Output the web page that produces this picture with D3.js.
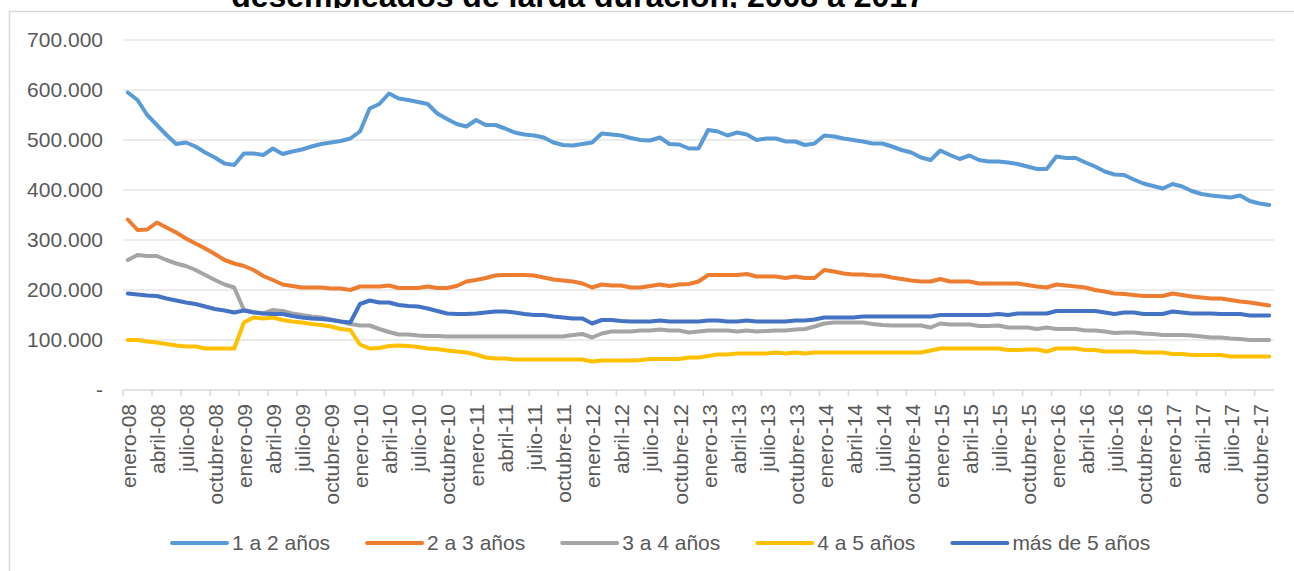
<!DOCTYPE html>
<html>
<head>
<meta charset="utf-8">
<script src="https://cdn.jsdelivr.net/npm/d3@7"></script>
<style>
  body { margin: 0; background: #fff; }
  text { font-family: "Liberation Sans", Arial, sans-serif; }
</style>
</head>
<body>
<div id="main"></div>
<script>
var width = 1294;
var height = 571;

// categorias: enero-08 .. noviembre-17
var monthNames = ['enero', 'febrero', 'marzo', 'abril', 'mayo', 'junio', 'julio',
    'agosto', 'septiembre', 'octubre', 'noviembre', 'diciembre'];
var yearNames = ['08', '09', '10', '11', '12', '13', '14', '15', '16', '17'];
var numMonths = 119;

var seriesNames = ['1 a 2 años', '2 a 3 años', '3 a 4 años', '4 a 5 años', 'más de 5 años'];
var seriesColors = ['#5B9BD5', '#ED7D31', '#A5A5A5', '#FFC000', '#4472C4'];

// valores en miles de personas
var unoADos = [595, 580, 550, 530, 510, 492, 495, 487, 475, 465, 453, 450,
    473, 473, 470, 483, 472, 477, 481, 487, 492, 495, 498, 503,
    517, 563, 572, 593, 583, 580, 576, 572, 553, 542, 532, 527,
    540, 530, 530, 523, 515, 511, 509, 505, 495, 490, 489, 492,
    495, 513, 511, 509, 504, 500, 499, 505, 492, 491, 483, 483,
    520, 517, 509, 515, 511, 500, 503, 503, 497, 497, 490, 493,
    509, 507, 503, 500, 497, 493, 493, 487, 480, 475, 465, 460,
    479, 470, 462, 469, 460, 457, 457, 455, 452, 447, 442, 442,
    467, 464, 464, 455, 447, 437, 431, 430, 421, 413, 408, 403,
    412, 407, 398, 392, 389, 387, 385, 389, 378, 373, 370];
var dosATres = [341, 320, 321, 335, 325, 315, 303, 293, 283, 272, 260, 253,
    248, 240, 228, 220, 211, 208, 205, 205, 205, 203, 203, 200,
    207, 207, 207, 209, 204, 204, 204, 207, 204, 204, 208, 217,
    220, 224, 229, 230, 230, 230, 229, 225, 221, 219, 217, 213,
    205, 211, 209, 209, 205, 205, 208, 211, 208, 211, 212, 217,
    230, 230, 230, 230, 232, 227, 227, 227, 224, 227, 224, 224,
    240, 237, 233, 231, 231, 229, 229, 225, 222, 219, 217, 217,
    222, 217, 217, 217, 213, 213, 213, 213, 213, 210, 207, 205,
    211, 209, 207, 205, 200, 197, 193, 192, 190, 188, 188, 188,
    193, 190, 187, 185, 183, 183, 180, 177, 175, 172, 169];
var tresACuatro = [260, 270, 268, 268, 260, 253, 248, 240, 230, 220, 211, 205,
    160, 156, 153, 160, 158, 153, 150, 147, 145, 141, 137, 132,
    129, 129, 122, 116, 111, 111, 109, 108, 108, 107, 107, 107,
    107, 107, 107, 107, 107, 107, 107, 107, 107, 107, 110, 112,
    105, 113, 117, 117, 117, 119, 119, 121, 119, 119, 115, 117,
    119, 119, 119, 117, 119, 117, 118, 119, 119, 121, 122, 127,
    133, 135, 135, 135, 135, 132, 130, 129, 129, 129, 129, 125,
    133, 131, 131, 131, 128, 128, 129, 125, 125, 125, 122, 125,
    122, 122, 122, 119, 119, 117, 114, 115, 115, 113, 112, 110,
    110, 110, 109, 107, 105, 105, 103, 102, 100, 100, 100];
var cuatroACinco = [100, 100, 97, 95, 92, 89, 87, 87, 83, 83, 83, 83,
    135, 145, 143, 145, 140, 137, 135, 132, 130, 127, 122, 120,
    91, 83, 84, 88, 89, 88, 86, 83, 82, 79, 77, 75,
    71, 65, 63, 63, 61, 61, 61, 61, 61, 61, 61, 61,
    57, 59, 59, 59, 59, 60, 62, 62, 62, 62, 65, 65,
    68, 71, 71, 73, 73, 73, 73, 75, 73, 75, 73, 75,
    75, 75, 75, 75, 75, 75, 75, 75, 75, 75, 75, 79,
    83, 83, 83, 83, 83, 83, 83, 80, 80, 81, 81, 77,
    83, 83, 83, 80, 80, 77, 77, 77, 77, 75, 75, 75,
    72, 72, 70, 70, 70, 70, 67, 67, 67, 67, 67];
var masDeCinco = [193, 191, 189, 188, 183, 179, 175, 172, 167, 162, 159, 155,
    159, 155, 153, 152, 152, 148, 145, 143, 142, 140, 137, 135,
    172, 179, 175, 175, 170, 168, 167, 163, 158, 153, 152, 152,
    153, 155, 157, 157, 155, 152, 150, 150, 147, 145, 143, 143,
    133, 140, 140, 138, 137, 137, 137, 139, 137, 137, 137, 137,
    139, 139, 137, 137, 139, 137, 137, 137, 137, 139, 139, 141,
    145, 145, 145, 145, 147, 147, 147, 147, 147, 147, 147, 147,
    150, 150, 150, 150, 150, 150, 152, 150, 153, 153, 153, 153,
    158, 158, 158, 158, 158, 155, 152, 155, 155, 152, 152, 152,
    157, 155, 153, 153, 153, 152, 152, 152, 149, 149, 149];

var yTicks = [0, 100, 200, 300, 400, 500, 600, 700];

var labels = [];
yearNames.forEach(function(y) {
    monthNames.forEach(function(m) { labels.push(m + '-' + y); });
});
labels = labels.slice(0, numMonths);

var seriesValues = [unoADos, dosATres, tresACuatro, cuatroACinco, masDeCinco];

var plot = {l: 123, r: 1274, t: 40, b: 390};

var svg = d3.select('#main').append('svg')
    .attr('width', width)
    .attr('height', height);

// titulo (solo se ve la parte de abajo)
svg.append('clipPath').attr('id', 'titleClip')
    .append('rect').attr('x', 0).attr('y', 0).attr('width', width).attr('height', 8);
svg.append('text')
    .attr('clip-path', 'url(#titleClip)')
    .attr('x', 578)
    .attr('y', 7)
    .attr('text-anchor', 'middle')
    .style('font-size', '32px')
    .style('font-weight', 'bold')
    .style('fill', '#000')
    .text('desempleados de larga duración, 2008 a 2017');

// borde del area del grafico
svg.append('rect')
    .attr('x', 9.5)
    .attr('y', 11.5)
    .attr('width', width + 20)
    .attr('height', height + 20)
    .style('fill', '#fff')
    .style('stroke', '#D9D9D9')
    .style('stroke-width', 1.5);

var xScale = d3.scaleBand().domain(labels).range([plot.l, plot.r]).padding(0);
var yScale = d3.scaleLinear().domain([0, 700]).range([plot.b, plot.t]);

var locale = d3.formatLocale({decimal: ',', thousands: '.', grouping: [3], currency: ['', '']});
var fmt = locale.format(',');

// grid
svg.append('g')
    .selectAll('line')
    .data(yTicks.slice(1))
    .enter()
    .append('line')
    .attr('x1', plot.l)
    .attr('x2', plot.r)
    .attr('y1', function(d) { return yScale(d); })
    .attr('y2', function(d) { return yScale(d); })
    .style('stroke', '#D9D9D9')
    .style('stroke-width', 1);

// eje y
var yAxis = d3.axisLeft(yScale)
    .tickValues(yTicks)
    .tickSize(0)
    .tickPadding(20)
    .tickFormat(function(d) { return d === 0 ? '-' : fmt(d * 1000); });

var yG = svg.append('g')
    .attr('transform', 'translate(' + plot.l + ',0)')
    .call(yAxis);
yG.select('.domain').remove();
yG.selectAll('text')
    .style('font-size', '21px')
    .style('font-family', '"Liberation Sans", Arial, sans-serif')
    .style('fill', '#595959');

// eje x
var tickLabels = labels.filter(function(d, i) { return i % 3 === 0; });
var xAxis = d3.axisBottom(xScale)
    .tickValues(tickLabels)
    .tickSize(0)
    .tickPadding(0);

var xG = svg.append('g')
    .attr('transform', 'translate(0,' + plot.b + ')')
    .call(xAxis);
xG.select('.domain').remove();
xG.selectAll('text')
    .attr('transform', 'rotate(-90)')
    .attr('x', -14)
    .attr('y', 1)
    .attr('dy', '0.35em')
    .style('text-anchor', 'end')
    .style('font-size', '21px')
    .style('font-family', '"Liberation Sans", Arial, sans-serif')
    .style('fill', '#595959');

svg.append('line')
    .attr('x1', plot.l).attr('x2', plot.r)
    .attr('y1', plot.b).attr('y2', plot.b)
    .style('stroke', '#D9D9D9').style('stroke-width', 1.5);

svg.append('g')
    .selectAll('line')
    .data(tickLabels)
    .enter()
    .append('line')
    .attr('x1', function(d) { return xScale(d); })
    .attr('x2', function(d) { return xScale(d); })
    .attr('y1', plot.b)
    .attr('y2', plot.b + 6)
    .style('stroke', '#D9D9D9')
    .style('stroke-width', 1.5);

// lineas
var line = d3.line()
    .x(function(d, i) { return xScale(labels[i]) + xScale.bandwidth() / 2; })
    .y(function(d) { return yScale(d); });

svg.append('g')
    .selectAll('path')
    .data(seriesValues)
    .enter()
    .append('path')
    .attr('d', function(d) { return line(d); })
    .style('fill', 'none')
    .style('stroke', function(d, i) { return seriesColors[i]; })
    .style('stroke-width', 4)
    .style('stroke-linejoin', 'round')
    .style('stroke-linecap', 'round');

// leyenda
var legend = svg.append('g').attr('class', 'legend');
var legendX = 172;
var legendY = 543;
seriesNames.forEach(function(name, i) {
    var item = legend.append('g').attr('transform', 'translate(' + legendX + ',' + legendY + ')');
    item.append('line')
        .attr('x1', 0).attr('x2', 55)
        .attr('y1', 0).attr('y2', 0)
        .style('stroke', seriesColors[i])
        .style('stroke-width', 4)
        .style('stroke-linecap', 'round');
    var t = item.append('text')
        .attr('x', 60)
        .attr('y', 0)
        .attr('dy', '0.35em')
        .style('font-size', '21px')
        .style('fill', '#595959')
        .text(name);
    legendX += 60 + t.node().getComputedTextLength() + 37;
});
</script>
</body>
</html>
